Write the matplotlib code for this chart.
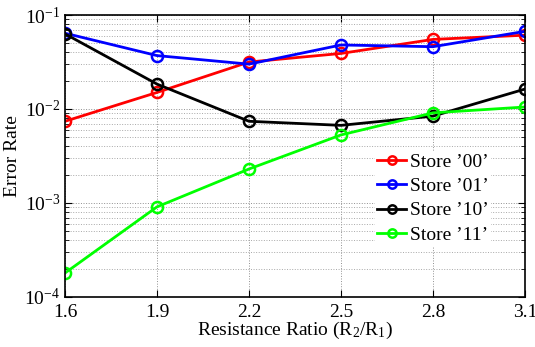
import matplotlib
matplotlib.use("Agg")
import matplotlib.pyplot as plt
from matplotlib.ticker import LogLocator, NullFormatter

plt.rcParams['font.family'] = ['Liberation Serif', 'DejaVu Serif']
plt.rcParams['mathtext.fontset'] = 'custom'
plt.rcParams['mathtext.rm'] = 'Liberation Serif'
plt.rcParams['mathtext.it'] = 'Liberation Serif:italic'

ratios = [1.6, 1.9, 2.2, 2.5, 2.8, 3.1]
store_00 = [0.0074, 0.015, 0.0316, 0.039, 0.055, 0.061]
store_01 = [0.064, 0.037, 0.030, 0.048, 0.046, 0.067]
store_10 = [0.063, 0.0184, 0.0074, 0.0067, 0.0084, 0.0163]
store_11 = [0.00018, 0.00091, 0.0023, 0.0053, 0.0091, 0.0105]
labels = ["Store \u201900\u2019", "Store \u201901\u2019", "Store \u201910\u2019", "Store \u201911\u2019"]
colors = ['#ff0000', '#0000ff', '#000000', '#00ff00']

fig = plt.figure(figsize=(5.35, 3.47), dpi=100)
ax = fig.add_axes([65/535, 1 - 297/347, (525-65)/535, (297-15)/347])

for ys, lab, c in zip([store_00, store_01, store_10, store_11], labels, colors):
    ax.plot(ratios, ys, '-o', color=c, lw=2, ms=8, mfc='none', mew=1.8, label=lab)

ax.set_yscale('log')
ax.set_ylim(1e-4, 1e-1)
ax.set_xlim(1.6, 3.1)
ax.set_xticks(ratios)
ax.set_xticklabels([f"{r:.1f}" for r in ratios])
ax.yaxis.set_major_locator(LogLocator(base=10, numticks=10))
ax.yaxis.set_minor_locator(LogLocator(base=10, subs=range(2, 10), numticks=100))
ax.yaxis.set_minor_formatter(NullFormatter())

ax.grid(True, which='major', axis='both', linestyle=':', color='#909090', lw=0.7)
ax.grid(True, which='minor', axis='y', linestyle=':', color='#a8a8a8', lw=0.7)
ax.tick_params(which='both', direction='in', top=True, right=True, labelsize=14)
ax.tick_params(axis='x', pad=5)
ax.tick_params(which='major', length=5)
ax.tick_params(which='minor', length=3)
for s in ax.spines.values():
    s.set_linewidth(1.2)

ax.set_xlabel("Resistance Ratio (R$_2$/R$_1$)", fontsize=14, labelpad=-1)
ax.set_ylabel("Error Rate", fontsize=14, labelpad=2)

leg = ax.legend(loc='upper left', bbox_to_anchor=(310/460, 1 - 136/282), frameon=True,
                fontsize=14, handlelength=1.5, handletextpad=0.2, labelspacing=0.35,
                borderpad=0.1, borderaxespad=0)
leg.get_frame().set_edgecolor('none')
leg.get_frame().set_facecolor('white')
leg.get_frame().set_alpha(1)
for h in leg.legend_handles:
    h.set_markersize(6)

fig.savefig("out.png", dpi=100)
